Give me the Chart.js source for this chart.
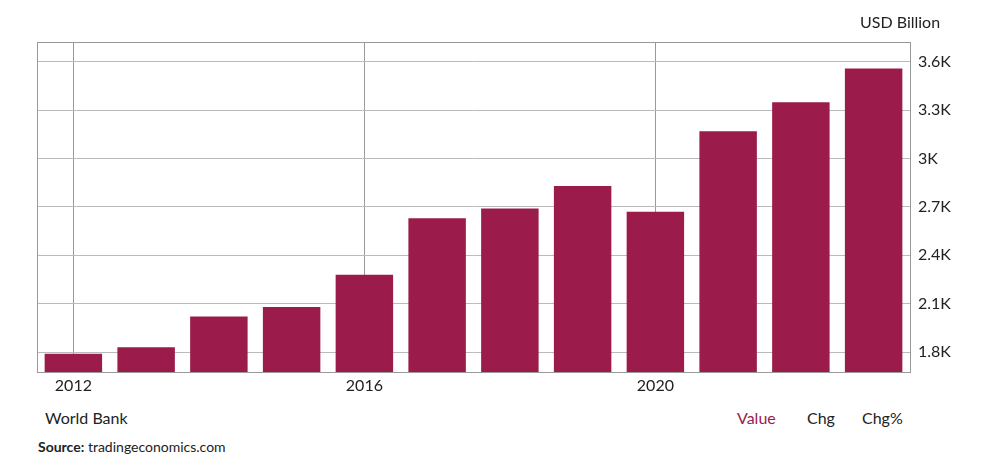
<!DOCTYPE html>
<html><head><meta charset="utf-8">
<script src="https://cdn.jsdelivr.net/npm/chart.js@4"></script>
<style>
body{margin:0;background:#fff;font-family:Lato,sans-serif;}
#wrap{position:relative;width:1000px;height:468px;}
#c{position:absolute;left:0;top:0;}
.t{position:absolute;font-size:16px;color:#222;white-space:nowrap;}
</style></head><body>
<div id="wrap">
<canvas id="c" width="1000" height="400"></canvas>
<div class="t" style="left:860px;top:12px;">USD Billion</div>
<div class="t" style="left:45px;top:408px;">World Bank</div>
<div class="t" style="left:737px;top:408px;color:#9b1c4a;">Value</div>
<div class="t" style="left:807px;top:408px;">Chg</div>
<div class="t" style="left:862px;top:408px;">Chg%</div>
<div class="t" style="left:38px;top:438px;font-size:14px;"><b>Source:</b> tradingeconomics.com</div>
</div>
<script>
const categories=['2012','2013','2014','2015','2016','2017','2018','2019','2020','2021','2022','2023'];
const values=[1.79,1.83,2.02,2.08,2.28,2.63,2.69,2.83,2.67,3.17,3.35,3.56];
const tickLabels={1.8:'1.8K',2.1:'2.1K',2.4:'2.4K',2.7:'2.7K',3:'3K',3.3:'3.3K',3.6:'3.6K'};
new Chart(document.getElementById('c'),{
type:'bar',
data:{labels:categories,datasets:[{data:values,backgroundColor:'#9b1c4a',categoryPercentage:1,barPercentage:0.79}]},
options:{responsive:false,animation:false,
layout:{padding:{left:37,top:42,right:0,bottom:0}},
plugins:{legend:{display:false},tooltip:{enabled:false}},
scales:{
x:{afterFit(s){s.height=28;},
grid:{offset:false,drawTicks:false,color:(c)=>c.index%4===0?'#999':'rgba(0,0,0,0)'},
border:{color:'#888'},
ticks:{autoSkip:false,padding:4,color:'#222',font:{family:'Lato',size:16},callback:(v,i)=>i%4===0?categories[i]:''}},
y:{position:'right',min:1.676,max:3.724,afterFit(s){s.width=90;},
afterBuildTicks(s){s.ticks=[1.8,2.1,2.4,2.7,3,3.3,3.6].map(v=>({value:v}));},
grid:{color:'#bbb',drawTicks:false},border:{color:'#888'},
ticks:{padding:8,color:'#222',font:{family:'Lato',size:16},callback:(v)=>tickLabels[Math.round(v*10)/10]}}
}},
plugins:[{id:'box',afterDraw(ch){const a=ch.chartArea,x=ch.ctx;x.save();x.strokeStyle='#999';x.lineWidth=1;x.strokeRect(a.left+0.5,a.top+0.5,a.width,a.height);x.restore();}}]
});
</script>
</body></html>
